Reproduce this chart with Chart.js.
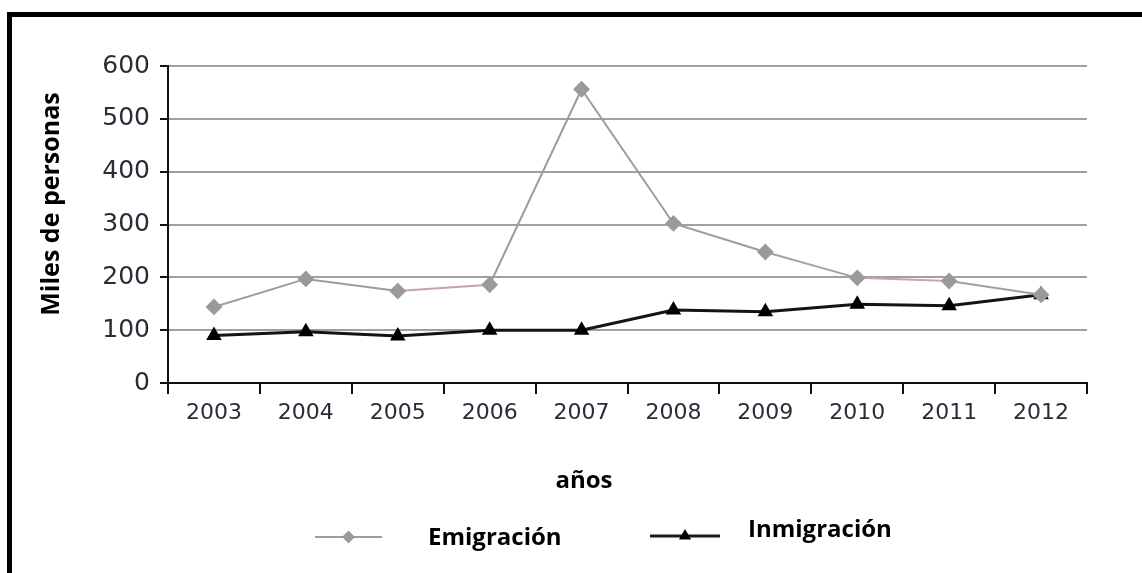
<!DOCTYPE html>
<html>
<head>
<meta charset="utf-8">
<script src="https://cdn.jsdelivr.net/npm/chart.js@4.4.0/dist/chart.umd.min.js"></script>
<style>
    html, body { margin: 0; padding: 0; background: #fff; overflow: hidden; }
    #wrap { position: relative; width: 1142px; height: 573px; }
    #frame {
        position: absolute; left: 7px; top: 12px;
        width: 1200px; height: 700px;
        border: 5px solid #000; pointer-events: none;
    }
    canvas { position: absolute; left: 0; top: 0; }
</style>
</head>
<body>
<div id="wrap">
    <canvas id="migrationChart" width="1142" height="573"></canvas>
    <div id="frame"></div>
</div>
<script>
// Data (miles de personas)
const years = ['2003', '2004', '2005', '2006', '2007', '2008', '2009', '2010', '2011', '2012'];
const emigracion = [144, 197, 174, 186, 556, 302, 248, 199, 193, 167];
const inmigracion = [90, 97, 89, 100, 100, 138, 135, 149, 146, 167];
const yTicks = [0, 100, 200, 300, 400, 500, 600];

// a couple of emigration segments are printed with a pink tint
const emigSegmentColors = ['#9c9c9c', '#9c9c9c', '#c4a2aa', '#9c9c9c', '#9c9c9c', '#9c9c9c', '#a8a0a4', '#d0a0ac', '#a0a0a0'];

// Axis titles and legend drawn on top of the chart
const annotations = {
    id: 'annotations',
    afterDraw(chart) {
        const ctx = chart.ctx;
        ctx.save();
        ctx.fillStyle = '#000';
        ctx.textBaseline = 'middle';

        // y axis title
        ctx.save();
        ctx.font = 'bold 25px "Open Sans"';
        ctx.translate(52, 204);
        ctx.rotate(-Math.PI / 2);
        ctx.textAlign = 'center';
        ctx.fillText('Miles de personas', 0, 0);
        ctx.restore();

        ctx.font = 'bold 24px "Open Sans"';

        // x axis title
        ctx.textAlign = 'center';
        ctx.fillText('años', 584, 481);

        // legend
        const items = [
            { ds: chart.data.datasets[0], x1: 315, x2: 382, y: 537, tx: 428, ty: 538 },
            { ds: chart.data.datasets[1], x1: 650, x2: 720, y: 536, tx: 748, ty: 530 }
        ];
        items.forEach(it => {
            ctx.strokeStyle = it.ds.legendColor;
            ctx.lineWidth = it.ds.borderWidth;
            ctx.beginPath();
            ctx.moveTo(it.x1, it.y);
            ctx.lineTo(it.x2, it.y);
            ctx.stroke();
            ctx.fillStyle = it.ds.pointBackgroundColor;
            ctx.strokeStyle = it.ds.pointBorderColor;
            Chart.helpers.drawPoint(ctx, {
                pointStyle: it.ds.pointStyle,
                radius: it.ds.pointRadius - 2,
                borderWidth: 1
            }, (it.x1 + it.x2) / 2, it.y);
            ctx.fillStyle = '#000';
            ctx.textAlign = 'left';
            ctx.fillText(it.ds.label, it.tx, it.ty);
        });
        ctx.restore();
    }
};

function initMigrationChart() {
    const ctx = document.getElementById('migrationChart').getContext('2d');
    new Chart(ctx, {
        type: 'line',
        data: {
            labels: years,
            datasets: [{
                label: 'Emigración',
                data: emigracion,
                borderColor: '#9c9c9c',
                legendColor: '#a8989c',
                borderWidth: 2,
                pointStyle: 'rectRot',
                pointRadius: 7,
                pointBackgroundColor: '#9a9a9a',
                pointBorderColor: '#9a9a9a',
                segment: {
                    borderColor: c => emigSegmentColors[c.p0DataIndex]
                },
                tension: 0
            }, {
                label: 'Inmigración',
                data: inmigracion,
                borderColor: '#141414',
                legendColor: '#1a1a1a',
                borderWidth: 3,
                pointStyle: 'triangle',
                pointRadius: 6,
                pointBackgroundColor: '#000',
                pointBorderColor: '#000',
                tension: 0
            }]
        },
        options: {
            responsive: false,
            animation: false,
            layout: {
                padding: { left: 0, top: 66, right: 55, bottom: 0 }
            },
            plugins: {
                legend: { display: false },
                tooltip: { enabled: false }
            },
            scales: {
                x: {
                    offset: true,
                    afterFit: scale => { scale.height = 190; },
                    grid: {
                        offset: true,
                        drawOnChartArea: false,
                        drawTicks: true,
                        tickLength: 11,
                        tickColor: '#111',
                        lineWidth: 2
                    },
                    border: { color: '#111', width: 2 },
                    ticks: {
                        color: '#2c2c38',
                        padding: 6,
                        font: { family: 'DejaVu Sans', size: 22 }
                    }
                },
                y: {
                    min: 0,
                    max: 600,
                    afterFit: scale => { scale.width = 168; },
                    afterBuildTicks: scale => {
                        scale.ticks = yTicks.map(v => ({ value: v }));
                    },
                    grid: {
                        color: '#a0a0a0',
                        lineWidth: 2,
                        tickLength: 8,
                        tickColor: '#111'
                    },
                    border: { color: '#111', width: 2 },
                    ticks: {
                        color: '#2c2c38',
                        padding: 10,
                        font: { family: 'DejaVu Sans', size: 25 }
                    }
                }
            }
        },
        plugins: [annotations]
    });
}

window.addEventListener('load', () => {
    initMigrationChart();
});
</script>
</body>
</html>
